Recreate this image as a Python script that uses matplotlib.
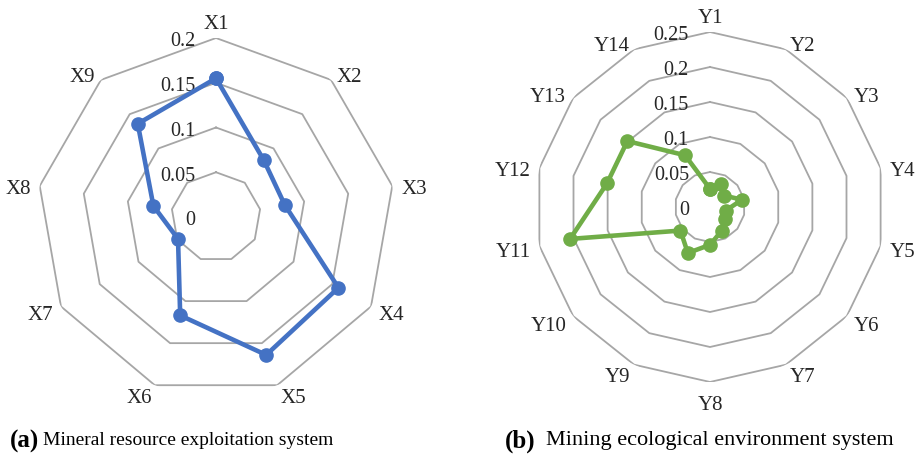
import numpy as np
import matplotlib
matplotlib.use("Agg")
import matplotlib.pyplot as plt
from matplotlib.transforms import offset_copy

plt.rcParams["font.family"] = ["Liberation Serif", "DejaVu Serif"]

# weights
x_labels = ["X1", "X2", "X3", "X4", "X5", "X6", "X7", "X8", "X9"]
x_values = [0.155, 0.083, 0.078, 0.158, 0.164, 0.117, 0.049, 0.071, 0.136]
x_ticks = [0, 0.05, 0.1, 0.15, 0.2]
x_tick_labels = ["0", "0.05", "0.1", "0.15", "0.2"]

y_labels = ["Y%d" % i for i in range(1, 15)]
y_values = [0.026, 0.037, 0.026, 0.047, 0.023, 0.027, 0.038,
            0.054, 0.073, 0.054, 0.205, 0.151, 0.151, 0.082]
y_ticks = [0, 0.05, 0.1, 0.15, 0.2, 0.25]
y_tick_labels = ["0", "0.05", "0.1", "0.15", "0.2", "0.25"]

captions = [("(a)", "Mineral resource exploitation system"),
            ("(b)", "Mining ecological environment system")]

W, H = 916, 456
fig = plt.figure(figsize=(W / 100, H / 100), dpi=100)


def radar(cx, cy, R, labels, values, ticks, tick_labels, color):
    ax = fig.add_axes([(cx - R) / W, (H - cy - R) / H, 2 * R / W, 2 * R / H],
                      projection="polar")
    ax.set_theta_zero_location("N")
    ax.set_theta_direction(-1)
    rmax = ticks[-1]
    ax.set_ylim(0, rmax)
    ax.grid(False)
    ax.set_xticks([])
    ax.set_yticks([])
    ax.spines["polar"].set_visible(False)
    ax.patch.set_alpha(0)

    n = len(labels)
    ang = np.linspace(0, 2 * np.pi, n, endpoint=False)
    ang_c = np.append(ang, ang[0])

    # polygon gridlines
    for t in ticks[1:]:
        ax.plot(ang_c, [t] * (n + 1), color="#a6a6a6", lw=1.3, zorder=1)

    # radial value labels
    tr = offset_copy(ax.transData, fig=fig, x=-21, y=-3, units="dots")
    for t, s in zip(ticks, tick_labels):
        ax.text(0, t, s, transform=tr, ha="right", va="center",
                fontsize=14.5, color="#262626")

    # category labels
    rl = rmax * (1 + 9.0 / R)
    tl = offset_copy(ax.transData, fig=fig, x=0, y=-4, units="dots")
    for a, s in zip(ang, labels):
        sa, ca = np.sin(a), np.cos(a)
        ha = "left" if sa > 0.15 else ("right" if sa < -0.15 else "center")
        va = "bottom" if ca > 0.96 else ("top" if ca < -0.96 else "center")
        ax.text(a, rl, s, transform=tl, ha=ha, va=va, fontsize=15,
                color="#262626", clip_on=False)

    vals = list(values) + [values[0]]
    ax.plot(ang_c, vals, color=color, lw=3.3, marker="o", ms=9.5, zorder=3,
            clip_on=False)
    return ax


radar(216, 218, 179, x_labels, x_values, x_ticks, x_tick_labels, "#4472C4")
radar(710, 208, 175, y_labels, y_values, y_ticks, y_tick_labels, "#70AD47")

for (bold, rest), x0, fs, gap in zip(captions, [10, 505], [14, 16], [4, 10]):
    t = fig.text(x0 / W, 1 - 441 / H, bold, fontsize=18, fontweight="bold",
                 ha="left", va="center")
    fig.canvas.draw()
    bb = t.get_window_extent()
    fig.text((bb.x1 + gap) / W, 1 - 441 / H, rest, fontsize=fs,
             ha="left", va="center")

fig.savefig("out.png", dpi=100)
